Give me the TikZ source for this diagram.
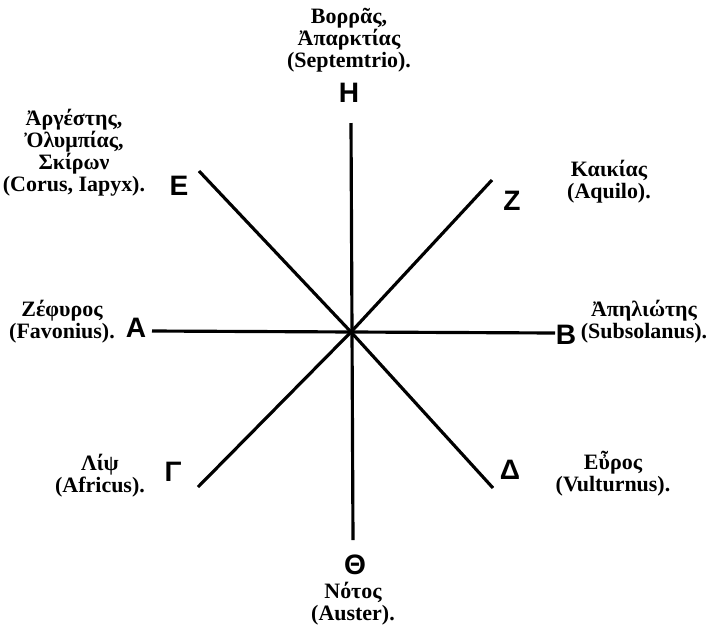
\documentclass[tikz,border=0pt]{standalone}
\usepackage{fontspec}
\setmainfont{Liberation Serif}
\newfontfamily\lettersans{Liberation Sans}
\usetikzlibrary{positioning}

\tikzset{
  wind/.style={align=center, inner sep=0pt, font=\bfseries\fontsize{12.5}{12.5}\selectfont},
  point/.style={inner sep=0pt, font=\lettersans\bfseries\fontsize{16}{16}\selectfont},
  ray/.style={line width=1.8pt}
}

\begin{document}
\begin{tikzpicture}[x=0.02cm, y=-0.02cm]
	\useasboundingbox (0,0) rectangle (710,633);
	% centre and the ends of the rays
	\coordinate (O) at (351,332);
	\coordinate (n) at (351,123);
	\coordinate (s) at (353,540);
	\coordinate (w) at (152,331);
	\coordinate (e) at (555,333);
	\coordinate (nw) at (199,171);
	\coordinate (ne) at (492,180);
	\coordinate (sw) at (198,487);
	\coordinate (se) at (493,488);
	\draw[ray] (n) -- (s);
	\draw[ray] (w) -- (e);
	\draw[ray] (nw) -- (O);
	\draw[ray] (ne) -- (O);
	\draw[ray] (sw) -- (O);
	\draw[ray] (se) -- (O);
	% letters
	\node[point] (H) at (349,93) {H};
	\node[point] (E) at (179,186) {E};
	\node[point] (Z) at (512,201) {Z};
	\node[point] (A) at (136,328) {A};
	\node[point] (B) at (566,335) {B};
	\node[point] (G) at (173,472) {Γ};
	\node[point] (D) at (510,470) {Δ};
	\node[point] (T) at (355,565) {Θ};
	% winds
	\node[wind] (septemtrio) at (349,40) {Βορρᾶς,\\Ἀπαρκτίας\\(Septemtrio).};
	\node[wind] (corus) at (74,153) {Ἀργέστης,\\Ὀλυμπίας,\\Σκίρων\\(Corus, Iapyx).};
	\node[wind] (aquilo) at (609,182) {Καικίας\\(Aquilo).};
	\node[wind] (favonius) at (62,322) {Ζέφυρος\\(Favonius).};
	\node[wind] (subsolanus) at (644,322) {Ἀπηλιώτης\\(Subsolanus).};
	\node[wind] (africus) at (100,476) {Λίψ\\(Africus).};
	\node[wind] (vulturnus) at (613,474) {Εὖρος\\(Vulturnus).};
	\node[wind] (auster) at (353,604) {Νότος\\(Auster).};
\end{tikzpicture}
\end{document}
